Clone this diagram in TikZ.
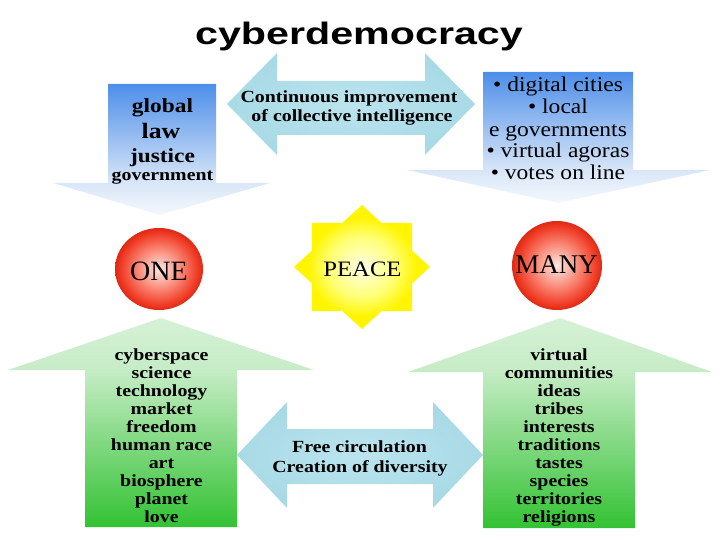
\documentclass[tikz,border=0pt]{standalone}
\usepackage{fontspec}
\setmainfont{Liberation Serif}
\newfontfamily\titlefont[FakeStretch=1.33]{Liberation Sans Bold}
\newfontfamily\bfs[FakeStretch=1.17]{Liberation Serif Bold}
\newfontfamily\rfs[FakeStretch=1.12]{Liberation Serif}
\definecolor{blueTop}{HTML}{4D8EE9}
\definecolor{blueLight}{HTML}{DAE7F8}
\definecolor{blueApex}{HTML}{F4F8FD}
\definecolor{greenBot}{HTML}{33C233}
\definecolor{greenLight}{HTML}{C6ECC6}
\definecolor{greenApex}{HTML}{D6F1D6}
\definecolor{ballC}{HTML}{FEE8E2}
\definecolor{ballM}{HTML}{FA8A78}
\definecolor{ballE}{HTML}{F03A24}
\definecolor{ballR}{HTML}{DC2A14}
\definecolor{sunC}{HTML}{FFFFE6}
\definecolor{sunM}{HTML}{FFFF78}
\definecolor{sunE}{HTML}{FFF500}
\definecolor{water}{HTML}{A8DAE6}
\definecolor{waterL}{HTML}{BCE4EE}
\pgfdeclareverticalshading{bluearrow}{100bp}{color(0bp)=(blueApex); color(25bp)=(blueApex); color(37bp)=(blueLight); color(75bp)=(blueTop); color(100bp)=(blueTop)}
\pgfdeclareverticalshading{greenarrow}{100bp}{color(0bp)=(greenBot); color(25bp)=(greenBot); color(62.6bp)=(greenLight); color(75bp)=(greenApex); color(100bp)=(greenApex)}
\pgfdeclareradialshading{ball}{\pgfpoint{0bp}{0bp}}{color(0bp)=(ballC); color(12bp)=(ballM); color(22bp)=(ballE); color(25bp)=(ballR); color(50bp)=(ballR)}
\pgfdeclareradialshading{sun}{\pgfpoint{0bp}{0bp}}{color(0bp)=(sunC); color(12bp)=(sunM); color(20bp)=(sunE); color(50bp)=(sunE)}
\pgfdeclareradialshading{waterfill}{\pgfpoint{0bp}{0bp}}{color(0bp)=(waterL); color(25bp)=(water); color(50bp)=(water)}
\tikzset{
  txt/.style={inner sep=0pt, anchor=base, align=center},
  bsmall/.style={txt, font=\bfs\fontsize{17}{18}\selectfont},
  rlist/.style={txt, font=\rfs\fontsize{21}{22}\selectfont},
}
\begin{document}
\begin{tikzpicture}[x=1pt,y=-1pt]
\useasboundingbox (0,0) rectangle (720,540);
% top-left down arrow
\shade[shading=bluearrow] (108,84) -- (216,84) -- (216,183) -- (270,183) -- (160,215) -- (53,183) -- (108,183) -- cycle;
% top-right down arrow
\shade[shading=bluearrow] (483,72) -- (633,72) -- (633,170) -- (710,170) -- (558,203) -- (407,170) -- (483,170) -- cycle;
% bottom-left up arrow
\shade[shading=greenarrow] (85,527) -- (237,527) -- (237,370) -- (314,370) -- (161,318) -- (8,370) -- (85,370) -- cycle;
% bottom-right up arrow
\shade[shading=greenarrow] (483,528) -- (635,528) -- (635,372) -- (712,372) -- (560,318) -- (408,372) -- (483,372) -- cycle;
% top double arrow
\shade[shading=waterfill] (227,104) -- (277,53) -- (277,81) -- (425,81) -- (425,53) -- (475,104) -- (425,155) -- (425,135) -- (277,135) -- (277,155) -- cycle;
% bottom double arrow
\shade[shading=waterfill] (237,455) -- (287,402) -- (287,429) -- (433,429) -- (433,402) -- (483,455) -- (433,508) -- (433,484) -- (287,484) -- (287,508) -- cycle;
% balls
\shade[shading=ball] (159,269) ellipse [x radius=44, y radius=41];
\shade[shading=ball] (557,265.5) ellipse [x radius=45, y radius=44.5];
% star
\begin{scope}[shift={(362,267)}]
\shade[shading=sun] (0,-62) -- (19.7,-44) -- (50,-44) -- (50,-16.4) -- (68,0) -- (50,16.4) -- (50,44) -- (19.7,44) -- (0,62) -- (-19.7,44) -- (-50,44) -- (-50,16.4) -- (-68,0) -- (-50,-16.4) -- (-50,-44) -- (-19.7,-44) -- cycle;
\end{scope}
% texts
\node[txt, font=\titlefont\fontsize{31}{31}\selectfont] (title) at (359,45) {cyberdemocracy};
\node[txt, font=\bfs\fontsize{20}{20}\selectfont] (global) at (162.5,113) {global};
\node[txt, font=\bfs\fontsize{22}{22}\selectfont] (law) at (161,139) {law};
\node[txt, font=\bfs\fontsize{20}{20}\selectfont] (justice) at (162.5,163) {justice};
\node[txt, font=\bfs\fontsize{17}{17}\selectfont] (gov) at (162.5,181) {government};
\node[bsmall] (cont) at (349,103) {Continuous improvement};
\node[bsmall] (coll) at (352,122) {of collective intelligence};
\node[rlist] (right) at (558,180) {• digital cities\\• local\\e governments\\• virtual agoras\\• votes on line};
\node[txt, font=\fontsize{28}{28}\selectfont] (one) at (159,280) {ONE};
\node[txt, font=\rfs\fontsize{22}{22}\selectfont] (peace) at (362.5,276) {PEACE};
\node[txt, font=\fontsize{27}{27}\selectfont] (many) at (556.5,273) {MANY};
\node[bsmall] (leftlist) at (161.5,522) {cyberspace\\science\\technology\\market\\freedom\\human race\\art\\biosphere\\planet\\love};
\node[bsmall] (rightlist) at (559,522) {virtual\\communities\\ideas\\tribes\\interests\\traditions\\tastes\\species\\territories\\religions};
\node[bsmall] (free) at (359.5,452) {Free circulation};
\node[bsmall] (creat) at (360,472) {Creation of diversity};
\end{tikzpicture}
\end{document}
